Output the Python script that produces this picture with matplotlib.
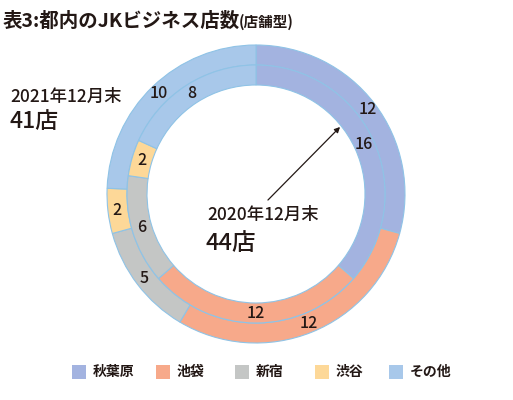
import matplotlib
matplotlib.use("Agg")
import matplotlib.pyplot as plt
import numpy as np

plt.rcParams['font.family'] = ['Noto Sans CJK JP', 'DejaVu Sans']

categories = ['秋葉原', '池袋', '新宿', '渋谷', 'その他']
colors = ['#a3b3e0', '#f7a98a', '#c4c6c5', '#fdd898', '#a8c8ea']
values_2021 = [12, 12, 5, 2, 10]
values_2020 = [16, 12, 6, 2, 8]

W, H = 513, 400
fig = plt.figure(figsize=(W/100, H/100), dpi=100)
ax = fig.add_axes([0, 0, 1, 1])

cx, cy = 256, H - 194
r_out, r_mid, r_in = 149, 129, 109
edge = dict(edgecolor='#8fc3e6', linewidth=0.8)

w_out, _ = ax.pie(values_2021, colors=colors, startangle=90, counterclock=False,
                  center=(cx, cy), radius=r_out, frame=True,
                  wedgeprops=dict(width=r_out - r_mid, **edge))
w_in, _ = ax.pie(values_2020, colors=colors, startangle=90, counterclock=False,
                 center=(cx, cy), radius=r_mid, frame=True,
                 wedgeprops=dict(width=r_mid - r_in, **edge))
ax.set_xlim(0, W)
ax.set_ylim(0, H)
ax.set_aspect('equal')
ax.axis('off')

TXT = '#231815'

def label(wedges, vals, r):
    for w, v in zip(wedges, vals):
        a = np.deg2rad((w.theta1 + w.theta2) / 2)
        ax.text(cx + r*np.cos(a), cy + r*np.sin(a), str(v), ha='center', va='center',
                fontsize=11.5, fontweight='medium', color=TXT)

label(w_out, values_2021, (r_out + r_mid) / 2 + 1)
label(w_in, values_2020, (r_mid + r_in) / 2)

# arrow
ax.annotate('', xy=(342, H - 125), xytext=(266, H - 202),
            arrowprops=dict(arrowstyle='-|>', color=TXT, lw=0.9, mutation_scale=8))

ax.text(207, H - 215, '2020年12月末', fontsize=12.5, fontweight='medium', color=TXT,
        ha='left', va='center')
ax.text(206, H - 243, '44店', fontsize=17, fontweight='medium', color=TXT,
        ha='left', va='center')
ax.text(10, H - 97, '2021年12月末', fontsize=12.5, fontweight='medium', color=TXT,
        ha='left', va='center')
ax.text(9, H - 121, '41店', fontsize=16.5, fontweight='medium', color=TXT,
        ha='left', va='center')

# title
ax.text(3, H - 27, '表3:都内のJKビジネス店数', fontsize=14, fontweight='bold',
        color=TXT, ha='left', va='baseline')
ax.text(239, H - 27, '(店舗型)', fontsize=10.5, fontweight='bold',
        color=TXT, ha='left', va='baseline')

# legend
leg_x = [72, 156, 235, 315, 389]
for x, c, name in zip(leg_x, colors, categories):
    ax.add_patch(plt.Rectangle((x, H - 379), 14, 14, facecolor=c, edgecolor='none'))
    ax.text(x + 21, H - 372, name, fontsize=10, fontweight='bold', color=TXT,
            ha='left', va='center')

fig.savefig('out.png', dpi=100)
